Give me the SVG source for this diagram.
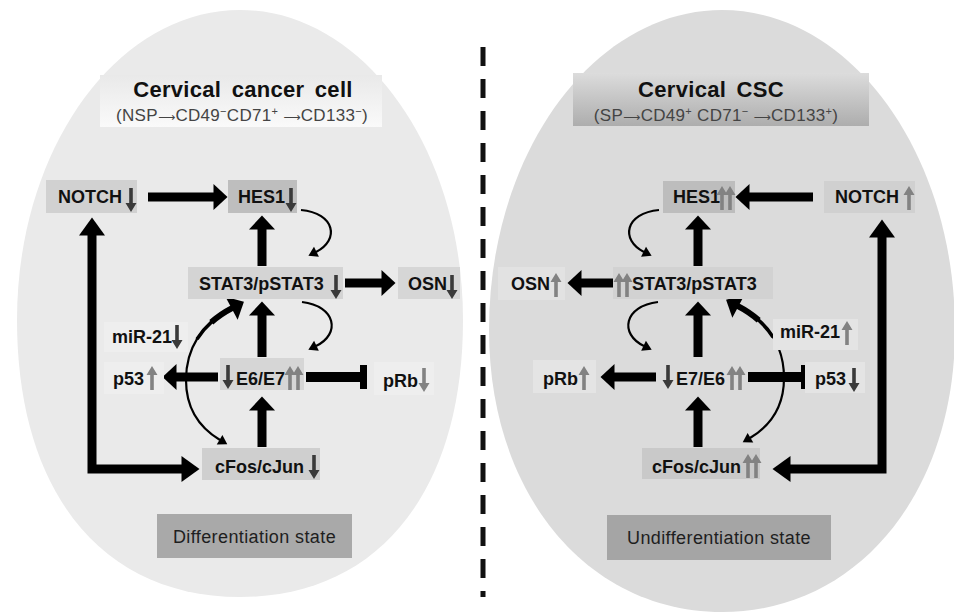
<svg xmlns="http://www.w3.org/2000/svg" width="954" height="615" viewBox="0 0 954 615">
  <style>
    .lbl { font-family: "Liberation Sans", Arial, sans-serif; font-weight: bold; font-size: 18px; fill: #111; }
    .ttl { font-family: "Liberation Sans", Arial, sans-serif; font-weight: bold; font-size: 22px; fill: #111; letter-spacing: 0.3px; word-spacing: 4px; }
    .sub { font-family: "Liberation Sans", "DejaVu Sans", Arial, sans-serif; font-size: 17px; fill: #444; letter-spacing: 0.3px; }
    .ar { font-family: "DejaVu Sans", sans-serif; font-size: 12px; }
    .sup { font-size: 11px; }
    .state { font-family: "Liberation Sans", Arial, sans-serif; font-size: 18px; fill: #1e1e1e; letter-spacing: 0.4px; }
    .dk { fill: #3a3a3a; }
    .gy { fill: #828282; }
    .thick { fill: none; stroke: #000; stroke-width: 9; }
    .bar { fill: none; stroke: #000; stroke-width: 10; }
    .thin { fill: none; stroke: #000; stroke-width: 2.2; }
  </style>
  <defs>
    <marker id="head" markerUnits="userSpaceOnUse" markerWidth="15" markerHeight="26" refX="0.5" refY="13" orient="auto-start-reverse" overflow="visible">
      <path d="M0,0 L14,13 L0,26 Z" fill="#000"/>
    </marker>
    <marker id="headL" markerUnits="userSpaceOnUse" markerWidth="19" markerHeight="26" refX="0.5" refY="13" orient="auto-start-reverse" overflow="visible">
      <path d="M0,0 L18,13 L0,26 Z" fill="#000"/>
    </marker>
    <marker id="headS" markerUnits="userSpaceOnUse" markerWidth="10" markerHeight="10" refX="0.5" refY="5.5" orient="auto-start-reverse" overflow="visible">
      <path d="M0,0 L9,5.5 L0,11 Z" fill="#000"/>
    </marker>
    <path id="up" d="M-1.8,12 V-3 H-5.5 L0,-12 L5.5,-3 H1.8 V12 Z"/>
    <path id="down" d="M-1.8,-12 V3 H-5.5 L0,12 L5.5,3 H1.8 V-12 Z"/>
    <linearGradient id="capL" x1="0" y1="0" x2="0" y2="1">
      <stop offset="0" stop-color="#e9e9e9"/>
      <stop offset="1" stop-color="#fafafa"/>
    </linearGradient>
    <linearGradient id="capR" x1="0" y1="0" x2="0" y2="1">
      <stop offset="0" stop-color="#dcdcdc"/>
      <stop offset="1" stop-color="#adadad"/>
    </linearGradient>
  </defs>

  <rect width="954" height="615" fill="#fff"/>

  <!-- cell outlines: elliptical, slightly fuller in the lower half -->
  <path id="cell-left" d="M240,10 C363.1,10 463,148.9 463,320 C463,491.7 378.3,597 240,597 C101.7,597 17,491.7 17,320 C17,148.9 116.9,10 240,10 Z" fill="#eaeaea"/>
  <path id="cell-right" d="M722,10 C850.6,10 955,153.4 955,330 C955,493.6 857.1,612 722,612 C586.9,612 489,493.6 489,330 C489,153.4 593.4,10 722,10 Z" fill="#dbdbdb"/>

  <!-- divider -->
  <line x1="483" y1="47" x2="483" y2="597" stroke="#111" stroke-width="5" stroke-dasharray="19 13"/>

  <!-- headers -->
  <g id="title-left">
    <rect x="100" y="75" width="282" height="52" fill="url(#capL)"/>
    <text class="ttl" x="243" y="97" text-anchor="middle">Cervical cancer cell</text>
    <text class="sub" x="242" y="121" text-anchor="middle">(NSP<tspan class="ar">⟶</tspan>CD49<tspan dy="-6" class="sup">−</tspan><tspan dy="6">CD71</tspan><tspan dy="-6" class="sup">+</tspan><tspan dy="6"> </tspan><tspan class="ar">⟶</tspan>CD133<tspan dy="-6" class="sup">−</tspan><tspan dy="6">)</tspan></text>
  </g>
  <g id="title-right">
    <rect x="573" y="73" width="296" height="53" fill="url(#capR)"/>
    <text class="ttl" x="711" y="97" text-anchor="middle">Cervical CSC</text>
    <text class="sub" x="716" y="121" text-anchor="middle">(SP<tspan class="ar">⟶</tspan>CD49<tspan dy="-6" class="sup">+</tspan><tspan dy="6">  CD71</tspan><tspan dy="-6" class="sup">−</tspan><tspan dy="6"> </tspan><tspan class="ar">⟶</tspan>CD133<tspan dy="-6" class="sup">+</tspan><tspan dy="6">)</tspan></text>
  </g>

  <!-- connectors -->
  <g id="connectors">
    <!-- left cell -->
    <path class="thick" d="M148,197 H214" marker-end="url(#head)"/>
    <path class="thick" d="M262,266 V229" marker-end="url(#head)"/>
    <path class="thick" d="M345,283 H382" marker-end="url(#head)"/>
    <path class="thick" d="M262,357 V315" marker-end="url(#head)"/>
    <path class="thick" d="M262,447 V410" marker-end="url(#head)"/>
    <path class="thick" d="M218,377 H176" marker-end="url(#head)"/>
    <path class="bar" d="M306,377 H362"/>
    <rect x="360" y="365" width="7" height="24" fill="#000"/>
    <path class="thick" d="M92,235 V469 H182" stroke-linejoin="miter" marker-start="url(#headL)" marker-end="url(#headL)"/>
    <path class="thin" d="M301,210 C335,213 340,240 316,252" marker-end="url(#headS)"/>
    <path class="thin" d="M302,302 C336,306 341,334 316,346" marker-end="url(#headS)"/>
    <path class="thin" d="M220,440 C200,428 186,410 186,380 C186,350 200,325 232,308" marker-start="url(#headS)" marker-end="url(#head)"/>
    <path fill="none" stroke="#000" stroke-width="3.6" d="M197,339.1 C204.5,327 216,316.5 232,308"/>
    <path fill="none" stroke="#000" stroke-width="6" d="M211.3,322.2 C217.1,317 224,312.25 232.5,307.8"/>

    <!-- right cell -->
    <path class="thick" d="M813,197 H749" marker-end="url(#head)"/>
    <path class="thick" d="M698,266 V229" marker-end="url(#head)"/>
    <path class="thick" d="M613,283 H581" marker-end="url(#head)"/>
    <path class="thick" d="M698,357 V315" marker-end="url(#head)"/>
    <path class="thick" d="M698,447 V410" marker-end="url(#head)"/>
    <path class="thick" d="M656,377 H614" marker-end="url(#head)"/>
    <path class="bar" d="M748,377 H803"/>
    <rect x="801" y="365" width="7" height="24" fill="#000"/>
    <path class="thick" d="M882,237 V469 H790" stroke-linejoin="miter" marker-start="url(#headL)" marker-end="url(#headL)"/>
    <path class="thin" d="M659,210 C625,213 620,240 644,252" marker-end="url(#headS)"/>
    <path class="thin" d="M658,302 C624,306 619,334 644,346" marker-end="url(#headS)"/>
    <path class="thin" d="M750,438 C770,426 784,408 784,378 C784,348 770,323 738,306" marker-start="url(#headS)" marker-end="url(#head)"/>
    <path fill="none" stroke="#000" stroke-width="3.6" d="M773,337.1 C765.5,325 754,314.5 738,306"/>
    <path fill="none" stroke="#000" stroke-width="6" d="M758.7,320.2 C752.9,315 746,310.25 737.5,305.8"/>
  </g>

  <!-- left cell nodes -->
  <g id="notch-left">
    <rect x="46" y="180" width="91" height="33" fill="#d1d1d1"/>
    <text class="lbl" x="58" y="203">NOTCH</text>
    <use href="#down" x="131" y="200" class="dk"/>
  </g>
  <g id="hes1-left">
    <rect x="228" y="180" width="69" height="33" fill="#bebebe"/>
    <text class="lbl" x="238" y="203">HES1</text>
    <use href="#down" x="291" y="200" class="dk"/>
  </g>
  <g id="stat3-left">
    <rect x="188" y="267" width="155" height="32" fill="#d4d4d4"/>
    <text class="lbl" x="199" y="290">STAT3/pSTAT3</text>
    <use href="#down" x="336" y="287" class="dk"/>
  </g>
  <g id="osn-left">
    <rect x="398" y="267" width="62" height="32" fill="#d6d6d6"/>
    <text class="lbl" x="408" y="290">OSN</text>
    <use href="#down" x="452" y="287" class="dk"/>
  </g>
  <g id="mir21-left">
    <rect x="104" y="322" width="84" height="30" fill="#eeeeee"/>
    <text class="lbl" x="112" y="343">miR-21</text>
    <use href="#down" x="177" y="337" class="dk"/>
  </g>
  <g id="p53-left">
    <rect x="104" y="362" width="60" height="32" fill="#eeeeee"/>
    <text class="lbl" x="113" y="385">p53</text>
    <use href="#up" x="152" y="378" class="gy"/>
  </g>
  <g id="e6e7-left">
    <rect x="220" y="358" width="84" height="32" fill="#d6d6d6"/>
    <use href="#down" x="228" y="377" class="dk"/>
    <text class="lbl" x="236" y="385">E6/E7</text>
    <use href="#up" x="290" y="378" class="gy"/>
    <use href="#up" x="298" y="378" class="gy"/>
  </g>
  <g id="prb-left">
    <rect x="374" y="362" width="60" height="33" fill="#eeeeee"/>
    <text class="lbl" x="383" y="387">pRb</text>
    <use href="#down" x="424" y="380" class="gy"/>
  </g>
  <g id="cfos-left">
    <rect x="202" y="448" width="118" height="32" fill="#cfcfcf"/>
    <text class="lbl" x="215" y="473">cFos/cJun</text>
    <use href="#down" x="314" y="467" class="dk"/>
  </g>
  <g id="state-left">
    <rect x="157" y="514" width="195" height="44" fill="#a9a9a9"/>
    <text class="state" x="254.5" y="543" text-anchor="middle">Differentiation state</text>
  </g>

  <!-- right cell nodes -->
  <g id="hes1-right">
    <rect x="663" y="181" width="72" height="32" fill="#bdbdbd"/>
    <text class="lbl" x="673" y="203">HES1</text>
    <use href="#up" x="722" y="198" class="gy"/>
    <use href="#up" x="730" y="198" class="gy"/>
  </g>
  <g id="notch-right">
    <rect x="824" y="181" width="91" height="32" fill="#d0d0d0"/>
    <text class="lbl" x="835" y="203">NOTCH</text>
    <use href="#up" x="909" y="198" class="gy"/>
  </g>
  <g id="stat3-right">
    <rect x="613" y="267" width="160" height="32" fill="#d2d2d2"/>
    <use href="#up" x="619" y="285" class="gy"/>
    <use href="#up" x="627" y="285" class="gy"/>
    <text class="lbl" x="632" y="290">STAT3/pSTAT3</text>
  </g>
  <g id="osn-right">
    <rect x="498" y="267" width="67" height="33" fill="#e2e2e2"/>
    <text class="lbl" x="511" y="290">OSN</text>
    <use href="#up" x="556" y="285" class="gy"/>
  </g>
  <g id="mir21-right">
    <rect x="773" y="319" width="85" height="31" fill="#e4e4e4"/>
    <text class="lbl" x="780" y="338">miR-21</text>
    <use href="#up" x="847" y="333" class="gy"/>
  </g>
  <g id="p53-right">
    <rect x="805" y="362" width="60" height="31" fill="#e4e4e4"/>
    <text class="lbl" x="815" y="385">p53</text>
    <use href="#down" x="854" y="380" class="dk"/>
  </g>
  <g id="e7e6-right">
    <use href="#down" x="668" y="377" class="dk"/>
    <text class="lbl" x="676" y="385">E7/E6</text>
    <use href="#up" x="732" y="378" class="gy"/>
    <use href="#up" x="740" y="378" class="gy"/>
  </g>
  <g id="prb-right">
    <rect x="533" y="360" width="63" height="33" fill="#e4e4e4"/>
    <text class="lbl" x="543" y="385">pRb</text>
    <use href="#up" x="584" y="378" class="gy"/>
  </g>
  <g id="cfos-right">
    <rect x="642" y="448" width="118" height="31" fill="#c9c9c9"/>
    <text class="lbl" x="652" y="473">cFos/cJun</text>
    <use href="#up" x="748" y="466" class="gy"/>
    <use href="#up" x="756" y="466" class="gy"/>
  </g>
  <g id="state-right">
    <rect x="607" y="515" width="224" height="45" fill="#a5a5a5"/>
    <text class="state" x="719" y="544" text-anchor="middle">Undifferentiation state</text>
  </g>
</svg>
